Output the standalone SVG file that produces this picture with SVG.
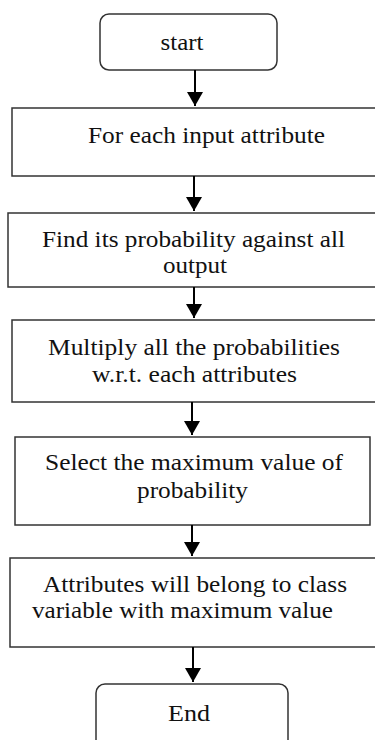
<svg xmlns="http://www.w3.org/2000/svg" width="375" height="740" viewBox="0 0 375 740">
<style>
.box{fill:#fff;stroke:#333;stroke-width:1.5}
.t{font-family:"Liberation Serif","Times New Roman",serif;font-size:23px;fill:#111;text-anchor:middle}
.c{stroke:#000;stroke-width:2;fill:none}
</style>
<defs>
<marker id="ah" markerWidth="8" markerHeight="8" refX="7" refY="4" orient="auto" markerUnits="strokeWidth">
<path d="M0,0 L7,4 L0,8 Z" fill="#000"/>
</marker>
</defs>
<rect width="375" height="740" fill="#fff"/>
<g id="start"><rect class="box" x="100" y="14" width="177" height="56" rx="9"/><text class="t" x="182" y="50" textLength="43" lengthAdjust="spacingAndGlyphs">start</text></g>
<g id="n1"><rect class="box" x="12" y="108" width="370" height="68"/><text class="t" x="206.5" y="143" textLength="237" lengthAdjust="spacingAndGlyphs">For each input attribute</text></g>
<g id="n2"><rect class="box" x="8" y="213" width="374" height="74"/><text class="t" x="193.5" y="247" textLength="303" lengthAdjust="spacingAndGlyphs">Find its probability against all</text><text class="t" x="195" y="273" textLength="64" lengthAdjust="spacingAndGlyphs">output</text></g>
<g id="n3"><rect class="box" x="12" y="320" width="370" height="82"/><text class="t" x="194" y="355" textLength="292" lengthAdjust="spacingAndGlyphs">Multiply all the probabilities</text><text class="t" x="194.5" y="382" textLength="205" lengthAdjust="spacingAndGlyphs">w.r.t. each attributes</text></g>
<g id="n4"><rect class="box" x="15" y="437" width="355" height="88"/><text class="t" x="194" y="470" textLength="298" lengthAdjust="spacingAndGlyphs">Select the maximum value of</text><text class="t" x="192.5" y="498" textLength="111" lengthAdjust="spacingAndGlyphs">probability</text></g>
<g id="n5"><rect class="box" x="10" y="558" width="372" height="89"/><text class="t" x="195" y="592" textLength="304" lengthAdjust="spacingAndGlyphs">Attributes will belong to class</text><text class="t" x="182.5" y="618" textLength="301" lengthAdjust="spacingAndGlyphs">variable with maximum value</text></g>
<g id="end"><rect class="box" x="96" y="684" width="192" height="70" rx="9"/><text class="t" x="189" y="721" textLength="42" lengthAdjust="spacingAndGlyphs">End</text></g>
<g id="connectors">
<line class="c" x1="195" y1="70" x2="195" y2="106" marker-end="url(#ah)"/>
<line class="c" x1="194" y1="176" x2="194" y2="211" marker-end="url(#ah)"/>
<line class="c" x1="194" y1="287" x2="194" y2="318" marker-end="url(#ah)"/>
<line class="c" x1="192" y1="402" x2="192" y2="435" marker-end="url(#ah)"/>
<line class="c" x1="192" y1="525" x2="192" y2="556" marker-end="url(#ah)"/>
<line class="c" x1="193" y1="647" x2="193" y2="682" marker-end="url(#ah)"/>
</g>
</svg>
